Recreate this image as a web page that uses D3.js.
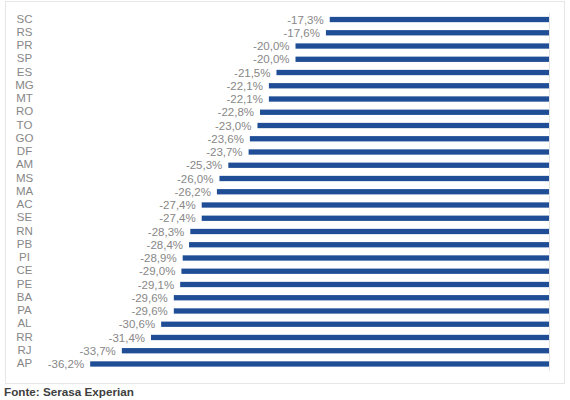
<!DOCTYPE html>
<html>
<head>
<meta charset="utf-8">
<script src="https://cdn.jsdelivr.net/npm/d3@7"></script>
<style>
  html, body { margin: 0; padding: 0; background: #fff; }
  svg { display: block; font-family: "Liberation Sans", Arial, sans-serif; }
</style>
</head>
<body>
<svg id="chart" width="570" height="400"></svg>
<script>
// States, top to bottom
const states = ["SC", "RS", "PR", "SP", "ES", "MG", "MT", "RO", "TO", "GO", "DF", "AM", "MS",
    "MA", "AC", "SE", "RN", "PB", "PI", "CE", "PE", "BA", "PA", "AL", "RR", "RJ", "AP"];

// Variation in percent
const values = [-17.3, -17.6, -20.0, -20.0, -21.5, -22.1, -22.1, -22.8, -23.0, -23.6, -23.7, -25.3, -26.0,
    -26.2, -27.4, -27.4, -28.3, -28.4, -28.9, -29.0, -29.1, -29.6, -29.6, -30.6, -31.4, -33.7, -36.2];

const source_text = "Fonte: Serasa Experian";

const bar_color = "#1f4e96";
const label_color = "#878787";

const svg = d3.select("#chart");

// Outer frame
svg.append("rect")
    .attr("x", 5.5).attr("y", 1.5)
    .attr("width", 559).attr("height", 382)
    .attr("fill", "none")
    .attr("stroke", "#e6e6e6");

const x = d3.scaleLinear()
    .domain([-40, 0])
    .range([42, 549]);

const y = d3.scaleBand()
    .domain(states)
    .range([12.9, 370.6])
    .paddingInner(0.6)
    .paddingOuter(0.3);

// Faint zero axis
svg.append("line")
    .attr("x1", x(0) + 0.5).attr("x2", x(0) + 0.5)
    .attr("y1", y.range()[0]).attr("y2", y.range()[1])
    .attr("stroke", "#e3e3e3");

const rows = states.map((s, i) => ({ state: s, value: values[i] }));

svg.append("g")
    .selectAll("rect")
    .data(rows)
    .join("rect")
    .attr("x", d => x(d.value))
    .attr("y", d => y(d.state))
    .attr("width", d => x(0) - x(d.value))
    .attr("height", y.bandwidth())
    .attr("fill", bar_color);

// Value labels
const fmt = v => v.toFixed(1).replace(".", ",") + "%";
svg.append("g")
    .selectAll("text")
    .data(rows)
    .join("text")
    .attr("x", d => x(d.value) - 6)
    .attr("y", d => y(d.state) + y.bandwidth() / 2)
    .attr("dy", "0.35em")
    .attr("text-anchor", "end")
    .attr("font-size", "11.5px")
    .attr("fill", label_color)
    .text(d => fmt(d.value));

// Category labels
svg.append("g")
    .selectAll("text")
    .data(rows)
    .join("text")
    .attr("x", 24.5)
    .attr("y", d => y(d.state) + y.bandwidth() / 2 - 1)
    .attr("dy", "0.35em")
    .attr("text-anchor", "middle")
    .attr("font-size", "11.5px")
    .attr("fill", label_color)
    .text(d => d.state);

// Source
svg.append("text")
    .attr("x", 4)
    .attr("y", 395.5)
    .attr("font-size", "11.7px")
    .attr("font-weight", "bold")
    .attr("fill", "#404040")
    .text(source_text);
</script>
</body>
</html>
